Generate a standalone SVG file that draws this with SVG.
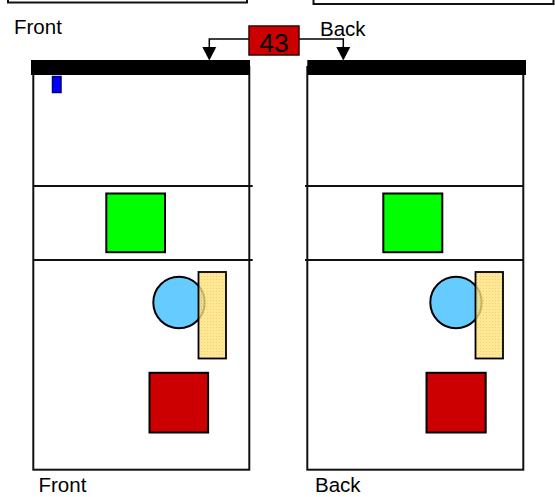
<svg xmlns="http://www.w3.org/2000/svg" xmlns:xlink="http://www.w3.org/1999/xlink" width="555" height="497" viewBox="0 0 555 497">
<style>
  .lbl { font-family: "Liberation Sans", Arial, sans-serif; font-size: 20.5px; fill: #000; }
  .frame { fill: none; stroke: #111; stroke-width: 2; }
  .div { stroke: #111; stroke-width: 2; }
  .bar { fill: #000; }
  .green { fill: #00ff00; stroke: #000; stroke-width: 2; }
  .red { fill: #cc0000; stroke: #000; stroke-width: 2; }
  .circ { fill: #66ccff; stroke: #000; stroke-width: 2; }
  .yel { fill: url(#dots); fill-opacity: 0.8; stroke: #000; stroke-width: 1.8; }
  .conn { fill: none; stroke: #000; stroke-width: 1.5; }
</style>
<defs>
  <pattern id="dots" width="3" height="3" patternUnits="userSpaceOnUse">
    <rect width="3" height="3" fill="#ffe27a"/>
    <rect width="1" height="1" fill="#f2c440"/>
  </pattern>
  <path id="ah" d="M-7,-13.5 L7,-13.5 L0,0 Z" fill="#000"/>
</defs>
<g id="top-boxes">
  <rect x="8" y="-20" width="239" height="22.5" fill="#fff" stroke="#111" stroke-width="2"/>
  <rect x="313.5" y="-20" width="240" height="24" fill="#fff" stroke="#111" stroke-width="2"/>
</g>
<g id="labels">
  <text class="lbl" x="14" y="34">Front</text>
  <text class="lbl" x="320" y="36">Back</text>
  <text class="lbl" x="38.5" y="492">Front</text>
  <text class="lbl" x="315" y="492">Back</text>
</g>
<g id="front-panel">
  <rect class="frame" x="33.3" y="67" width="216" height="402.7"/>
  <line class="div" x1="33.3" y1="186" x2="252.7" y2="186"/>
  <line class="div" x1="33.3" y1="260" x2="252.7" y2="260"/>
  <rect class="bar" x="31" y="60" width="219" height="15"/>
  <rect x="52.5" y="76.5" width="8.5" height="16" fill="#0000ff" stroke="#000080" stroke-width="1.5"/>
  <rect class="green" x="106.3" y="193.5" width="58.7" height="58.7"/>
  <circle class="circ" cx="179" cy="302.5" r="25.7"/>
  <rect class="yel" x="198.5" y="272" width="27.5" height="86.5"/>
  <rect class="red" x="149.5" y="372.8" width="58.6" height="59.7"/>
</g>
<g id="back-panel">
  <rect class="frame" x="307.3" y="67" width="216" height="402.7"/>
  <line class="div" x1="305" y1="186" x2="523.3" y2="186"/>
  <line class="div" x1="305" y1="260" x2="523.3" y2="260"/>
  <rect class="bar" x="307.3" y="60" width="218.7" height="15"/>
  <rect class="green" x="383.3" y="193.5" width="59" height="58.7"/>
  <circle class="circ" cx="456" cy="302.5" r="25.7"/>
  <rect class="yel" x="475.5" y="272" width="27.5" height="86.5"/>
  <rect class="red" x="426.5" y="372.8" width="59.2" height="59.7"/>
</g>
<g id="connectors">
  <polyline class="conn" points="249,39 209.3,39 209.3,50"/>
  <use xlink:href="#ah" href="#ah" x="209.3" y="60.5"/>
  <polyline class="conn" points="299,39 343.3,39 343.3,50"/>
  <use xlink:href="#ah" href="#ah" x="343.3" y="60.5"/>
</g>
<g id="node-43">
  <rect x="249" y="26" width="50" height="29" fill="#cc0000" stroke="#3a0000" stroke-width="1.5"/>
  <text x="274" y="51.5" text-anchor="middle" font-family="Liberation Sans, Arial, sans-serif" font-size="26.5" fill="#000">43</text>
</g>
</svg>
